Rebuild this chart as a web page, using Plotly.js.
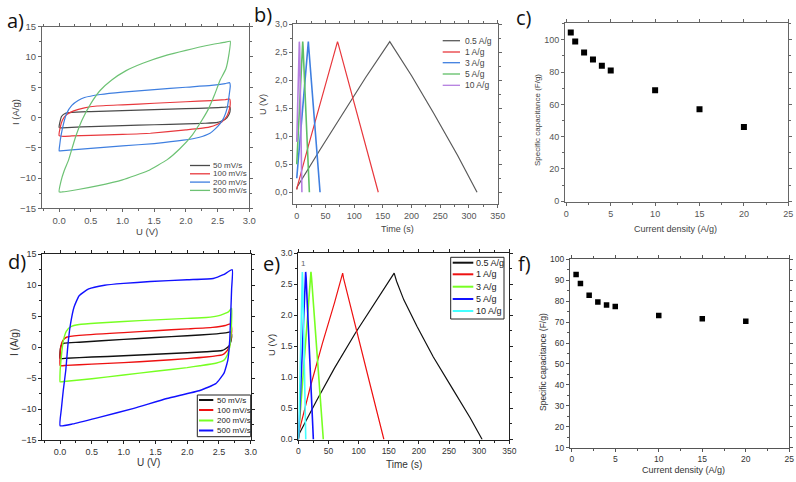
<!DOCTYPE html>
<html><head><meta charset="utf-8">
<script src="https://cdn.plot.ly/plotly-3.0.1.min.js"></script>
<style>html,body{margin:0;padding:0;background:#fff}#plot{width:796px;height:482px}</style>
</head><body><div id="plot"></div>
<script>
// ---------- Panel a: CV curves ----------
const cvA_names = ["50 mV/s","100 mV/s","200 mV/s","500 mV/s"];
const cvA_50_U = [0.00,0.01,0.04,0.10,0.20,0.50,1.00,1.50,2.00,2.40,2.62,2.69,2.70,2.68,2.62,2.50,2.30,2.00,1.50,1.00,0.50,0.20,0.05,0.01,0.00];
const cvA_50_I = [-1.60,-0.90,0.20,0.70,0.85,0.98,1.15,1.30,1.45,1.58,1.70,1.78,1.40,0.50,-0.30,-0.80,-0.95,-1.05,-1.20,-1.35,-1.50,-1.62,-1.70,-1.70,-1.60];
const cvA_100_U = [0.00,0.01,0.05,0.12,0.23,0.40,0.60,1.00,1.50,2.00,2.40,2.62,2.69,2.70,2.69,2.65,2.57,2.48,2.38,2.20,2.00,1.44,1.00,0.50,0.20,0.05,0.00];
const cvA_100_I = [-3.00,-2.00,-0.50,0.50,1.10,1.60,1.90,2.10,2.35,2.60,2.80,2.95,3.05,2.50,1.50,0.30,-0.70,-1.20,-1.55,-1.85,-2.05,-2.60,-2.80,-2.95,-3.05,-3.10,-3.00];
const cvA_200_U = [0.00,0.01,0.03,0.07,0.12,0.20,0.30,0.40,0.65,1.00,1.50,2.00,2.40,2.62,2.69,2.70,2.68,2.65,2.60,2.54,2.45,2.38,2.20,1.96,1.50,1.00,0.50,0.20,0.02,0.00];
const cvA_200_I = [-5.50,-4.50,-3.00,-1.00,0.70,2.00,2.80,3.30,3.80,4.20,4.60,5.00,5.30,5.60,5.75,5.20,3.50,1.50,0.00,-1.00,-2.00,-2.60,-3.30,-3.75,-4.30,-4.70,-5.10,-5.35,-5.50,-5.50];
const cvA_500_U = [0.00,0.03,0.08,0.15,0.25,0.36,0.50,0.65,0.83,1.05,1.33,1.70,2.00,2.33,2.60,2.70,2.68,2.63,2.54,2.45,2.35,2.25,2.10,1.90,1.70,1.40,1.00,0.60,0.30,0.05,0.00];
const cvA_500_I = [-12.3,-10.5,-8.8,-7.0,-3.5,-0.45,2.3,4.5,6.2,7.7,9.0,10.3,11.1,11.9,12.4,12.6,10.5,8.0,6.2,3.7,1.3,-0.5,-2.9,-5.2,-7.0,-8.8,-10.3,-11.3,-11.9,-12.3,-12.3];

// ---------- Panel b: GCD ----------
const gcdB_names = ["0.5 A/g","1 A/g","3 A/g","5 A/g","10 A/g"];
const gcdB_05_t = [0,1,40,80,120,162,200,238,280,314];
const gcdB_05_V = [0.05,0.10,0.75,1.40,2.05,2.69,2.08,1.42,0.66,0.00];
const gcdB_1_t = [0,1,20,40,60,71,72,100,120,142];
const gcdB_1_V = [0.05,0.10,0.82,1.55,2.28,2.69,2.66,1.60,0.85,0.00];
const gcdB_3_t = [0,20.2,20.8,40.6];
const gcdB_3_V = [0.25,2.69,2.60,0.00];
const gcdB_5_t = [0,10.4,11.0,22.0];
const gcdB_5_V = [0.50,2.69,2.60,0.00];
const gcdB_10_t = [0,4.5,5.0,9.0];
const gcdB_10_V = [0.90,2.69,2.60,0.00];

// ---------- Panel c: specific capacitance ----------
const capC_j = [0.5,1,2,3,4,5,10,15,20];
const capC_C = [104.5,99.0,92.1,87.8,83.9,81.0,68.8,57.0,45.9];

// ---------- Panel d: CV curves ----------
const cvD_names = ["50 mV/s","100 mV/s","200 mV/s","500 mV/s"];
const cvD_50_U = [0.00,0.00,0.01,0.03,0.07,0.30,1.00,1.50,2.00,2.40,2.60,2.68,2.70,2.69,2.66,2.60,2.55,2.30,2.00,1.50,1.00,0.50,0.10,0.02,0.00];
const cvD_50_I = [-1.80,-0.80,0.00,0.45,0.65,0.80,1.25,1.55,1.85,2.10,2.30,2.45,2.00,1.00,0.20,-0.30,-0.55,-0.75,-0.90,-1.15,-1.40,-1.60,-1.80,-1.85,-1.80];
const cvD_100_U = [0.00,0.00,0.01,0.04,0.10,0.30,1.00,1.50,2.00,2.40,2.60,2.68,2.70,2.69,2.66,2.60,2.55,2.30,2.00,1.50,1.00,0.50,0.10,0.02,0.00];
const cvD_100_I = [-2.95,-1.50,0.00,1.00,1.60,1.90,2.35,2.65,2.95,3.20,3.50,3.75,3.00,1.50,0.00,-0.90,-1.25,-1.60,-1.85,-2.20,-2.50,-2.75,-2.95,-3.00,-2.95];
const cvD_200_U = [0.00,0.00,0.02,0.05,0.10,0.17,0.30,0.60,1.00,1.50,2.00,2.30,2.50,2.65,2.70,2.70,2.69,2.67,2.63,2.58,2.45,2.20,2.00,1.50,1.00,0.50,0.10,0.02,0.00];
const cvD_200_I = [-5.60,-4.00,-1.50,1.00,2.60,3.30,3.65,3.90,4.15,4.40,4.65,4.80,5.10,5.70,6.30,4.50,2.00,0.00,-1.30,-2.10,-2.60,-3.00,-3.30,-3.90,-4.50,-5.10,-5.50,-5.60,-5.60];
const cvD_500_U = [0.00,0.02,0.05,0.09,0.12,0.16,0.22,0.30,0.45,0.70,1.00,1.42,2.00,2.41,2.57,2.71,2.70,2.69,2.67,2.64,2.58,2.45,2.20,1.68,1.16,0.63,0.20,0.00];
const cvD_500_I = [-12.7,-10.0,-7.0,-3.7,0.0,3.5,6.5,8.3,9.4,10.0,10.3,10.6,10.9,11.1,11.7,12.5,9.5,6.6,1.2,-2.1,-4.2,-5.9,-7.0,-8.3,-9.9,-11.3,-12.4,-12.7];

// ---------- Panel e: GCD ----------
const gcdE_names = ["0.5 A/g","1 A/g","3 A/g","5 A/g","10 A/g"];
const gcdE_05_t = [0,2,30,60,95,130,159,163,175,197,224,257,285,305];
const gcdE_05_V = [0.00,0.10,0.62,1.15,1.72,2.24,2.68,2.55,2.25,1.82,1.33,0.80,0.35,0.00];
const gcdE_1_t = [0,1,20,40,60,73.6,75,100,120,142];
const gcdE_1_V = [0.00,0.12,0.85,1.55,2.20,2.68,2.60,1.60,0.85,0.00];
const gcdE_3_t = [0,1,21,22,41.5];
const gcdE_3_V = [0.00,0.15,2.70,2.60,0.00];
const gcdE_5_t = [0,1,12.2,13,25];
const gcdE_5_V = [0.00,0.15,2.70,2.60,0.00];
const gcdE_10_t = [0,1,6.7,7.2,12.4];
const gcdE_10_V = [0.00,0.20,2.70,2.60,0.00];

// ---------- Panel f: specific capacitance ----------
const capF_j = [0.5,1,2,3,4,5,10,15,20];
const capF_C = [92.7,88.4,82.8,79.6,78.2,77.5,73.2,71.6,70.4];

// ---------- tick labels ----------
const commaTickVals = [0,0.5,1,1.5,2,2.5,3];
const commaTickText = ["0,0","0,5","1,0","1,5","2,0","2,5","3,0"];

// ---------- build ----------
const W = 796, H = 482;
const px = x => x / W, py = y => 1 - y / H;

const colA = ["#4a4a4a","#e8383d","#3f7fe0","#6dc274"];
const colB = ["#5a5a5a","#e8383d","#3f7fe0","#5fbf66","#b57fe0"];
const colD = ["#111111","#ee1111","#77ff22","#1111ff"];
const colE = ["#111111","#ee1111","#77ff22","#1111ff","#44ffff"];

const traces = [];
function line(x, y, color, xa, ya, w) {
  traces.push({x, y, type:'scatter', mode:'lines', line:{color, width:w, shape:'spline', smoothing:0.4}, xaxis:xa, yaxis:ya, showlegend:false, hoverinfo:'skip'});
}
function lineStraight(x, y, color, xa, ya, w) {
  traces.push({x, y, type:'scatter', mode:'lines', line:{color, width:w}, xaxis:xa, yaxis:ya, showlegend:false, hoverinfo:'skip'});
}
// a
[[cvA_50_U,cvA_50_I],[cvA_100_U,cvA_100_I],[cvA_200_U,cvA_200_I],[cvA_500_U,cvA_500_I]].forEach((d,i)=>line(d[0],d[1],colA[i],'x','y',1.2));
// b
[[gcdB_05_t,gcdB_05_V],[gcdB_1_t,gcdB_1_V],[gcdB_3_t,gcdB_3_V],[gcdB_5_t,gcdB_5_V],[gcdB_10_t,gcdB_10_V]].forEach((d,i)=>lineStraight(d[0],d[1],colB[i],'x2','y2',i>=2?1.6:1.2));
// c
traces.push({x:capC_j, y:capC_C, type:'scatter', mode:'markers', marker:{symbol:'square', size:6, color:'#000'}, xaxis:'x3', yaxis:'y3', showlegend:false});
// d
[[cvD_50_U,cvD_50_I],[cvD_100_U,cvD_100_I],[cvD_200_U,cvD_200_I],[cvD_500_U,cvD_500_I]].forEach((d,i)=>line(d[0],d[1],colD[i],'x4','y4',1.4));
// e
[[gcdE_05_t,gcdE_05_V],[gcdE_1_t,gcdE_1_V],[gcdE_3_t,gcdE_3_V],[gcdE_5_t,gcdE_5_V],[gcdE_10_t,gcdE_10_V]].forEach((d,i)=>lineStraight(d[0],d[1],colE[i],'x5','y5',i>=2?1.6:1.2));
// f
traces.push({x:capF_j, y:capF_C, type:'scatter', mode:'markers', marker:{symbol:'square', size:5.5, color:'#000'}, xaxis:'x6', yaxis:'y6', showlegend:false});

function ax(domain, range, anchor, o) {
  const lc = o.lc || '#666', tc = o.tc || '#555';
  const a = {domain, range, anchor, showline:true, linecolor:lc, linewidth:1, mirror:'ticks',
    ticks:'outside', ticklen:3, tickwidth:1, tickcolor:lc, showgrid:false, zeroline:false,
    tickfont:{size:o.fs||9, color:tc}, dtick:o.dtick, tick0:0,
    minor:{ticks:'outside', ticklen:2, tickcolor:lc, dtick:o.mdtick, showgrid:false}};
  if (o.fmt) a.tickformat = o.fmt;
  if (o.tv) { a.tickmode='array'; a.tickvals=o.tv; a.ticktext=o.tt; delete a.dtick; }
  return a;
}

const layout = {
  width:W, height:H, margin:{l:0,r:0,t:0,b:0}, paper_bgcolor:'#fff', plot_bgcolor:'#fff',
  font:{family:'"Liberation Sans", Arial, sans-serif', color:'#444'}, showlegend:false,
  xaxis: ax([px(42),px(249.3)],[-0.27,3.0],'y',{dtick:0.5,mdtick:0.25,fmt:'.1f',fs:9.5}),
  yaxis: ax([py(208.3),py(26.7)],[-15,15],'x',{dtick:5,mdtick:2.5,fs:9.5}),
  xaxis2: ax([px(293.3),px(497.7)],[-6,350],'y2',{dtick:50,mdtick:25}),
  yaxis2: ax([py(204),py(24.3)],[-0.21,3.0],'x2',{tv:commaTickVals,tt:commaTickText,mdtick:0.25}),
  xaxis3: ax([px(565),px(788.3)],[-0.15,25],'y3',{dtick:5,mdtick:2.5}),
  yaxis3: ax([py(201.7),py(23.3)],[-0.3,110.2],'x3',{dtick:20,mdtick:10}),
  xaxis4: ax([px(42.3),px(250.7)],[-0.28,3.0],'y4',{dtick:0.5,mdtick:0.25,fmt:'.1f',lc:'#222',tc:'#333',fs:9}),
  yaxis4: ax([py(440),py(254.3)],[-15,15],'x4',{dtick:5,mdtick:2.5,lc:'#222',tc:'#333',fs:9}),
  xaxis5: ax([px(298.3),px(509.3)],[0,350],'y5',{dtick:50,mdtick:25,lc:'#222',tc:'#333',fs:8.5}),
  yaxis5: ax([py(439.5),py(253.3)],[0,3],'x5',{dtick:0.5,mdtick:0.25,fmt:'.1f',lc:'#222',tc:'#333',fs:8.5}),
  xaxis6: ax([px(570),px(789.3)],[-0.2,25],'y6',{dtick:5,mdtick:2.5,lc:'#555',tc:'#333',fs:8.5}),
  yaxis6: ax([py(447.7),py(259.3)],[10,100],'x6',{dtick:10,mdtick:5,lc:'#555',tc:'#333',fs:8.5}),
  annotations:[], shapes:[]
};

function txt(text, x, y, o) {
  layout.annotations.push(Object.assign({text, x:px(x), y:py(y), xref:'paper', yref:'paper', showarrow:false,
    xanchor:'center', yanchor:'middle', font:{size:9, color:'#444'}}, o||{}));
}
// panel labels
const panelLabels = ["a)","b)","c)","d)","e)","f)"];
const labelPos = [[5,21],[252,14],[514,18],[6,261],[261,263],[516,263]];
panelLabels.forEach((l,i)=>txt(l,labelPos[i][0],labelPos[i][1],{xanchor:'left',font:{size:20,color:'#111',family:'"Open Sans", sans-serif'}}));
// axis titles
txt("U (V)",147,231,{font:{size:9.5,color:'#444'}});
txt("I (A/g)",15,112,{textangle:-90,font:{size:9.5,color:'#444'}});
txt("Time (s)",397,229,{font:{size:9,color:'#444'}});
txt("U (V)",263,105,{textangle:-90,font:{size:9,color:'#444'}});
txt("Current density (A/g)",675,229,{font:{size:9,color:'#444'}});
txt("Specific capacitance (F/g)",537,120,{textangle:-90,font:{size:8,color:'#444'}});
txt("U (V)",148,462,{font:{size:10,color:'#333'}});
txt("I (A/g)",14,343,{textangle:-90,font:{size:10,color:'#333'}});
txt("Time (s)",404,464,{font:{size:10,color:'#333'}});
txt("U (V)",271,345,{textangle:-90,font:{size:9.5,color:'#333'}});
txt("Current density (A/g)",683,470,{font:{size:9,color:'#333'}});
txt("Specific capacitance (F/g)",543,362,{textangle:-90,font:{size:8.5,color:'#333'}});
txt("1",303,263,{font:{size:8,color:'#666'}});

// manual legends
function legend(names, colors, x0, x1, xt, ys, fs, lw, tcol) {
  names.forEach((n,i)=>{
    layout.shapes.push({type:'line', xref:'paper', yref:'paper', x0:px(x0), x1:px(x1), y0:py(ys[i]), y1:py(ys[i]), line:{color:colors[i], width:lw}});
    txt(n, xt, ys[i], {xanchor:'left', font:{size:fs, color:tcol}});
  });
}
legend(cvA_names, colA, 190, 210, 210.5, [165.5,173.8,182.1,190.4], 8, 1.3, '#444');
legend(gcdB_names, colB, 442.7, 460, 462.5, [40.7,52,62.7,74,85.3], 8.5, 1.3, '#444');
layout.shapes.push({type:'rect', xref:'paper', yref:'paper', x0:px(197.3), x1:px(250.7), y0:py(436.7), y1:py(395), line:{color:'#222', width:1}, fillcolor:'rgba(255,255,255,0)'});
legend(cvD_names, colD, 199, 213.3, 214.5, [400,410,420.5,430.5], 8, 2, '#222');
layout.shapes.push({type:'rect', xref:'paper', yref:'paper', x0:px(450.7), x1:px(504), y0:py(319), y1:py(257.3), line:{color:'#222', width:1}, fillcolor:'rgba(255,255,255,0)'});
legend(gcdE_names, colE, 452.7, 473.3, 474, [262.7,274.3,286.7,299,311], 9, 2, '#222');

Plotly.newPlot('plot', traces, layout, {staticPlot:true, displayModeBar:false});
</script>
</body></html>
